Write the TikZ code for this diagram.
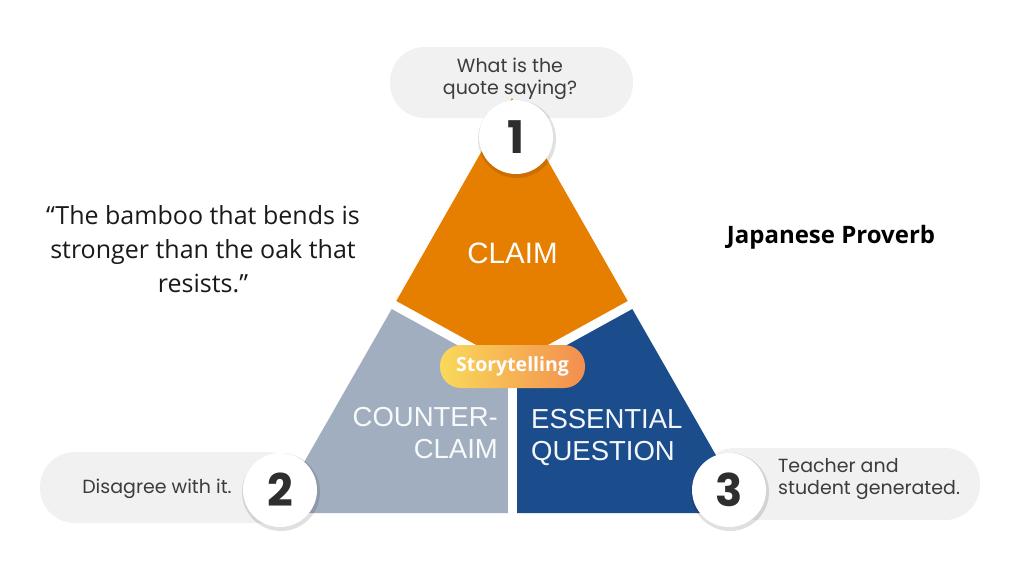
\documentclass[tikz,border=0pt]{standalone}
\usepackage{fontspec}
\setmainfont{Open Sans}
\newfontfamily\pop{Poppins}
\newfontfamily\arl{Liberation Sans}
\usetikzlibrary{calc}
\definecolor{orng}{HTML}{E67F00}
\definecolor{grayblue}{HTML}{A1AEC0}
\definecolor{dblue}{HTML}{1B4D8C}
\definecolor{pillgray}{HTML}{F1F1F1}
\definecolor{numgray}{HTML}{2E2E2E}
\definecolor{txtgray}{HTML}{3C3C3C}
\definecolor{stleft}{HTML}{F9D95A}
\definecolor{stright}{HTML}{F38E4E}
\begin{document}
\begin{tikzpicture}[x=1pt,y=-1pt,
  pill/.style={fill=pillgray, rounded corners=35pt, inner sep=0pt},
  pilltext/.style={font=\pop\fontsize{19}{22}\selectfont, text=txtgray, inner sep=0pt},
  numcircle/.style={circle, fill=white, minimum size=74pt, inner sep=0pt,
     font=\pop\bfseries\fontsize{45}{45}\selectfont, text=numgray},
  shadowc/.style={circle, fill=black, opacity=0.12, minimum size=78pt, inner sep=0pt},
  sector/.style={font=\arl\fontsize{27.5}{32}\selectfont, inner sep=0pt},
  gap/.style={white, line width=9pt}
]
\useasboundingbox[fill=white] (0,0) rectangle (1024,576);

% callout pills
\node[pill, minimum width=243pt, minimum height=71pt] (p1) at (511.5,82.5) {};
\node[pill, minimum width=262pt, minimum height=71pt] (p2) at (171,487.5) {};
\node[pill, minimum width=280pt, minimum height=72pt] (p3) at (840,484) {};

% triangle sectors
\coordinate (A) at (512,98);
\coordinate (B) at (275,513);
\coordinate (C) at (749,513);
\coordinate (L) at (394,305);
\coordinate (R) at (630,305);
\coordinate (J) at (512,370);
\coordinate (M) at (512,513);
\fill[orng] (A) -- (R) -- (J) -- (L) -- cycle;
\fill[grayblue] (L) -- (J) -- (M) -- (B) -- cycle;
\fill[dblue] (R) -- (C) -- (M) -- (J) -- cycle;
\draw[gap] (J) -- ($(J)!1.25!(L)$);
\draw[gap] (J) -- ($(J)!1.25!(R)$);
\draw[gap] (J) -- ($(J)!1.05!(M)$);

% sector labels
\node[sector, text=white, font=\arl\fontsize{29.5}{32}\selectfont] (claim) at (512.5,253) {CLAIM};
\node[sector, text=white!92!grayblue, align=right, anchor=north east] (cclaim) at (498,407) {COUNTER-\\CLAIM};
\node[sector, text=white!95!dblue, align=left, anchor=north west] (eq) at (531,409) {ESSENTIAL\\QUESTION};

% storytelling pill
\node[rounded corners=21pt, left color=stleft, right color=stright,
      minimum width=145pt, minimum height=43pt, inner sep=0pt,
      font=\bfseries\fontsize{19.5}{22}\selectfont, text=white] (st) at (512.5,366.5) {Storytelling};

% numbered circles with soft shadows
\node[shadowc] (s1) at (517,139) {};
\node[shadowc] (s2) at (281,492) {};
\node[shadowc] (s3) at (730,492) {};
\node[numcircle] (n1) at (516,137) {1};
\node[numcircle] (n2) at (280,490) {2};
\node[numcircle] (n3) at (729,490) {3};

% callout texts
\node[pilltext, align=center] (t1) at (510,79) {What is the\\quote saying?};
\node[pilltext] (t2) at (157,489) {Disagree with it.};
\node[pilltext, align=left, anchor=west] (t3) at (778,479) {Teacher and\\student generated.};

% quote and attribution
\node[font=\fontsize{25}{34}\selectfont, align=center, text=black!90, inner sep=0pt] (quote) at (203,249)
  {“The bamboo that bends is\\stronger than the oak that\\resists.”};
\node[font=\bfseries\fontsize{24}{28}\selectfont, text=black, inner sep=0pt] (jp) at (831,237) {Japanese Proverb};
\end{tikzpicture}
\end{document}
